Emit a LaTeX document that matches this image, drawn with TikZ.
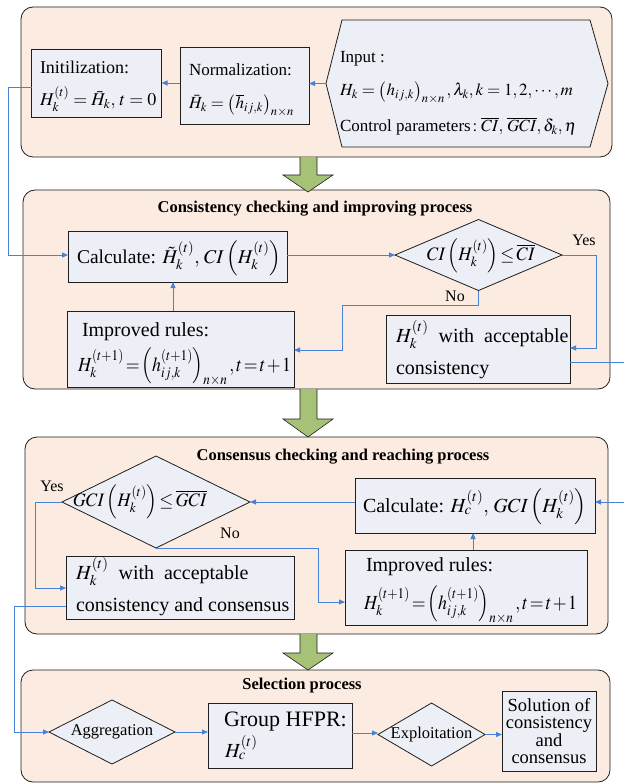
\documentclass[tikz,border=0pt]{standalone}
\usepackage{mathptmx}
\usepackage{graphicx}
\usepackage[no-math]{fontspec}
\setmainfont{Liberation Serif}
\usetikzlibrary{calc,arrows.meta}
\definecolor{panelfill}{RGB}{252,235,224}
\definecolor{boxfill}{RGB}{236,240,246}
\definecolor{conblue}{RGB}{70,130,215}
\definecolor{bigarrow}{RGB}{165,194,118}
\definecolor{edge}{RGB}{30,30,30}
\newcommand{\fs}[2]{\fontsize{#1}{#2}\selectfont}
\newcommand{\tightmath}{\thickmuskip=2mu\medmuskip=1.5mu\thinmuskip=2mu}
\newcommand{\hsq}[2]{\scalebox{#1}[1]{#2}}
\begin{document}
\begin{tikzpicture}[x=1pt,y=-1pt,
  panel/.style={draw=edge,line width=0.8pt,fill=panelfill,rounded corners=12pt},
  box/.style={draw=edge,line width=0.8pt,fill=boxfill,inner sep=0pt,outer sep=0pt},
  helper/.style={inner sep=0pt,outer sep=0pt},
  txt/.style={inner sep=0pt,outer sep=0pt,anchor=base west,align=left},
  ttl/.style={inner sep=0pt,font=\fs{16.5}{18}\bfseries},
  lbl/.style={inner sep=0pt,font=\fs{16}{18}},
  con/.style={draw=conblue,line width=0.9pt,-{Triangle[length=6pt,width=5pt]}},
  barrow/.style={draw=edge,line width=0.6pt,fill=bigarrow}]
\useasboundingbox (0,0) rectangle (623,783);

% ---------- panels ----------
\node[panel,minimum width=591,minimum height=150] (p1) at (316.5,82) {};
\node[panel,minimum width=587,minimum height=199] (p2) at (316.5,289.5) {};
\node[panel,minimum width=583,minimum height=197] (p3) at (316.5,535.5) {};
\node[panel,minimum width=589,minimum height=112] (p4) at (315.5,726) {};

% ---------- big arrows ----------
\draw[barrow] (300,157) -- (300,175) -- (283,175) -- (308,192) -- (333,175) -- (317,175) -- (317,157);
\draw[barrow] (300,389) -- (300,419) -- (283,419) -- (308,437) -- (333,419) -- (317,419) -- (317,389);
\draw[barrow] (300,634) -- (300,653) -- (283,653) -- (308,670) -- (333,653) -- (317,653) -- (317,634);

% ---------- panel 1 ----------
\node[box,minimum width=130,minimum height=68] (init) at (96.5,83) {};
\node[txt,font=\fs{18}{20}] (initt) at (40,74) {Initilization:};
\node[txt,font=\fs{18}{20}] (initf) at (40,106) {$H_k^{(t)}=\bar{H}_k,\,t=0$};

\node[box,minimum width=129,minimum height=77] (norm) at (244.5,85.5) {};
\node[txt,font=\fs{17}{19}] (normt) at (189,76) {Normalization:};
\node[txt,font=\fs{17}{19}] (normf) at (189,109) {$\bar{H}_k=\left(\overline{h}_{ij,k}\right)_{n\times n}$};

\node[helper,minimum width=282,minimum height=127] (inp) at (467,83.5) {};
\draw[box] (inp.west) -- ($(inp.north west)+(16,0)$) -- ($(inp.north east)+(-18,0)$) -- (inp.east)
  -- ($(inp.south east)+(-18,0)$) -- ($(inp.south west)+(16,0)$) -- cycle;
\node[txt,font=\fs{17}{19}] (inp1) at (340,63) {Input :};
\node[txt,font=\fs{17}{19}] (inp2) at (340,96) {$H_k=\left(h_{ij,k}\right)_{n\times n},\lambda_k,k=1,2,\cdots,m$};
\node[txt,font=\fs{17}{19}] (inp3) at (340,132) {Control parameters$\,:\overline{CI},\,\overline{GCI},\delta_k,\eta$};

% ---------- panel 2 ----------
\node[ttl] (t2) at (315,209) {Consistency checking and improving process};
\node[box,minimum width=219,minimum height=51] (calc2) at (177.5,256.5) {};
\node[txt,font=\fs{19.5}{21}] (calc2t) at (77,263) {Calculate: $\tilde{H}_k^{(t)},\,CI\left(H_k^{(t)}\right)$};

\node[helper,minimum width=167,minimum height=71] (ci) at (478.5,255) {};
\draw[box] (ci.west) -- (ci.north) -- (ci.east) -- (ci.south) -- cycle;
\node[inner sep=0pt,font=\fs{19}{21}] (cit) at (481,256) {\hsq{0.95}{$\tightmath CI\left(H_k^{(t)}\right)\le\overline{CI}$}};

\node[box,minimum width=227,minimum height=76] (imp2) at (180.5,349) {};
\node[txt,font=\fs{20}{22}] (imp2t) at (82,336) {Improved rules:};
\node[txt,font=\fs{20}{22}] (imp2f) at (78,371) {\hsq{0.89}{$\tightmath H_k^{(t+1)}=\left(h_{ij,k}^{(t+1)}\right)_{n\times n},t=t+1$}};

\node[box,minimum width=184,minimum height=68] (acc2) at (478,349) {};
\node[txt,font=\fs{20}{22}] (acc2a) at (396,342) {$H_k^{(t)}$ \ with \ acceptable};
\node[txt,font=\fs{20}{22}] (acc2b) at (396,374) {consistency};

% ---------- panel 3 ----------
\node[ttl] (t3) at (343,457) {Consensus checking and reaching process};
\node[helper,minimum width=188,minimum height=92] (gci) at (156,502) {};
\draw[box] (gci.west) -- (gci.north) -- (gci.east) -- (gci.south) -- cycle;
\node[inner sep=0pt,font=\fs{19}{21}] (gcit) at (140,502) {\hsq{0.95}{$\tightmath GCI\left(H_k^{(t)}\right)\le\overline{GCI}$}};

\node[box,minimum width=240,minimum height=55] (calc3) at (475,505.5) {};
\node[txt,font=\fs{20}{22}] (calc3t) at (363,512) {Calculate: $H_c^{(t)},\,GCI\left(H_k^{(t)}\right)$};

\node[box,minimum width=242,minimum height=75] (imp3) at (466,587.5) {};
\node[txt,font=\fs{20}{22}] (imp3t) at (366,571) {Improved rules:};
\node[txt,font=\fs{20}{22}] (imp3f) at (364,609) {\hsq{0.89}{$\tightmath H_k^{(t+1)}=\left(h_{ij,k}^{(t+1)}\right)_{n\times n},t=t+1$}};

\node[box,minimum width=228,minimum height=63] (acc3) at (180,587.5) {};
\node[txt,font=\fs{20}{22}] (acc3a) at (76,579) {$H_k^{(t)}$ \ with \ acceptable};
\node[txt,font=\fs{20}{22}] (acc3b) at (76,611) {consistency and consensus};

% ---------- panel 4 ----------
\node[ttl] (t4) at (302,686) {Selection process};
\node[helper,minimum width=126,minimum height=64] (agg) at (112,732) {};
\draw[box] (agg.west) -- (agg.north) -- (agg.east) -- (agg.south) -- cycle;
\node[inner sep=0pt,font=\fs{16.5}{18}] (aggt) at (112,732) {Aggregation};

\node[box,minimum width=144,minimum height=65] (hfpr) at (280,735.5) {};
\node[txt,font=\fs{22}{24}] (hfprt) at (224,726) {Group HFPR:};
\node[txt,font=\fs{20}{22}] (hfprf) at (225,757) {$H_c^{(t)}$};

\node[helper,minimum width=107,minimum height=63] (expl) at (431.5,734.5) {};
\draw[box] (expl.west) -- (expl.north) -- (expl.east) -- (expl.south) -- cycle;
\node[inner sep=0pt,font=\fs{16.5}{18}] (explt) at (431.5,734.5) {Exploitation};

\node[box,minimum width=94,minimum height=80,align=center,font=\fs{18.5}{17.5}] (sol) at (549,731)
  {Solution of\\consistency\\and\\consensus};

% ---------- connectors ----------
\draw[con] (inp.west) -- (inp.west -| norm.east);
\draw[con] (norm.west |- 0,83) -- (init.east |- 0,83);
\draw[con] (init.west |- 0,87) -- (8,87) |- (calc2.west |- 0,255);
\draw[con] (calc2.east |- ci.west) -- (ci.west);
\draw[con] (ci.east) -- (596,255) |- (acc2.east |- 0,348);
\node[lbl] (yes1) at (584,240) {Yes};
\draw[con] (ci.south) |- (342,305) |- (imp2.east |- 0,350);
\node[lbl] (no1) at (455,296) {No};
\draw[con] (imp2.north -| 173,0) -- (calc2.south -| 173,0);
\draw[con] (acc2.east |- 0,362) -- (660,362) -- (660,502) -- (calc3.east |- 0,502);

\draw[con] (calc3.west |- 0,502) -- (gci.east);
\draw[con] (gci.west) -- (35,502) |- (acc3.west |- 0,588);
\node[lbl] (yes2) at (52,486) {Yes};
\draw[con] (gci.south) -| (318,602) -- (imp3.west |- 0,602);
\node[lbl] (no2) at (230,533) {No};
\draw[con] (imp3.north -| 473,0) -- (calc3.south -| 473,0);
\draw[con] (acc3.west |- 0,606) -- (14,606) |- (agg.west);

\draw[con] (agg.east) -- (agg.east -| hfpr.west);
\draw[con] (hfpr.east |- 0,733) -- (expl.west |- 0,733);
\draw[con] (expl.east) -- (expl.east -| sol.west);
\end{tikzpicture}
\end{document}
